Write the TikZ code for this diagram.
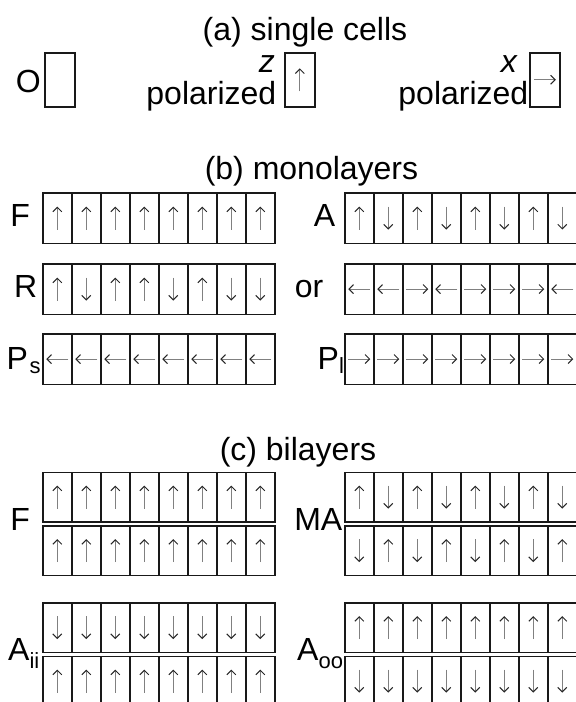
\documentclass[tikz,border=0pt]{standalone}
\usepackage{fontspec}
\setmainfont{Liberation Sans}
\usetikzlibrary{arrows.meta}

\tikzset{
  cellbox/.style={draw=black!90, line width=1.6pt, minimum width=29pt,
    minimum height=50.5pt, inner sep=0pt, anchor=north west},
  onecell/.style={draw=black!90, line width=1.6pt, minimum width=30pt,
    minimum height=54pt, inner sep=0pt, anchor=north west},
  spin/.style={draw=black!50, line width=1pt,
    -{Straight Barb[length=4.5pt,width=9pt,line width=1pt,black!85]}},
  lbl/.style={font=\fontsize{32}{32}\selectfont, inner sep=0pt},
  ttl/.style={font=\fontsize{32}{32}\selectfont, inner sep=0pt, anchor=base},
}

% arrows drawn inside a cell node, one macro per direction
\newcommand\spinu[1]{\draw[spin] ([yshift=-11.5pt]#1.center) -- ([yshift=11.5pt]#1.center);}
\newcommand\spind[1]{\draw[spin] ([yshift=11.5pt]#1.center) -- ([yshift=-11.5pt]#1.center);}
\newcommand\spinl[1]{\draw[spin] ([xshift=11pt]#1.center) -- ([xshift=-11pt]#1.center);}
\newcommand\spinr[1]{\draw[spin] ([xshift=-11pt]#1.center) -- ([xshift=11pt]#1.center);}
\newcommand\spinn[1]{}

% a row of eight cells: name prefix, left x, top y, cell height, list of directions
\newcommand\cellrow[5]{%
  \foreach \d [count=\i from 0] in {#5} {
    \node[cellbox, minimum height=#4] (#1-\i) at ({#2+29*\i},#3) {};
    \csname spin\d\endcsname{#1-\i}
  }}

\newcommand\subtxt[2]{\lower#1\hbox{\fontsize{22}{22}\selectfont #2}}

\begin{document}
\begin{tikzpicture}[x=1pt,y=-1pt]
\useasboundingbox (0,0) rectangle (576,702);

% (a) single cells
\node[ttl] (ta) at (305,40) {(a) single cells};
\node[onecell] (co) at (44,52) {};
\node[lbl, anchor=base east] (lo) at (41,92) {O};
\node[onecell] (cz) at (284,52) {};
\spinu{cz}
\node[lbl, anchor=base east] (lz) at (275,72) {\itshape z};
\node[lbl, anchor=base east] (pz) at (276.5,104) {polarized};
\node[onecell] (cx) at (529,52) {};
\spinr{cx}
\node[lbl, anchor=base east] (lx) at (517,72) {\itshape x};
\node[lbl, anchor=base east] (px) at (528.5,104) {polarized};

% (b) monolayers
\node[ttl] (tb) at (311.5,179) {(b) monolayers};
\cellrow{mF}{42}{192}{50.5pt}{u,u,u,u,u,u,u,u}
\cellrow{mA}{344}{192}{50.5pt}{u,d,u,d,u,d,u,d}
\cellrow{mR}{42}{263}{50.5pt}{u,d,u,u,d,u,d,d}
\cellrow{mO}{344}{263}{50.5pt}{l,l,r,l,r,r,r,l}
\cellrow{mPs}{42}{333}{50.5pt}{l,l,l,l,l,l,l,l}
\cellrow{mPl}{344}{333}{50.5pt}{r,r,r,r,r,r,r,r}
\node[lbl, anchor=base east] (lF) at (30,226) {F};
\node[lbl, anchor=base east] (lA) at (335.5,226) {A};
\node[lbl, anchor=base east] (lR) at (37.5,297) {R};
\node[lbl, anchor=base east] (lor) at (323.5,297) {or};
\node[lbl, anchor=base west] (lPs) at (6.5,369) {P\kern1.5pt\subtxt{4pt}{s}};
\node[lbl, anchor=base west] (lPl) at (317.5,369) {P\subtxt{4pt}{l}};

% (c) bilayers: two stacked rows with a narrow gap between them
\node[ttl] (tc) at (298,460) {(c) bilayers};
\cellrow{bFt}{42}{471.5}{49.5pt}{u,u,u,u,u,u,u,u}
\cellrow{bFb}{42}{525}{49.5pt}{u,u,u,u,u,u,u,u}
\cellrow{bMt}{344}{471.5}{49.5pt}{u,d,u,d,u,d,u,d}
\cellrow{bMb}{344}{525}{49.5pt}{d,u,d,u,d,u,d,u}
\cellrow{bIt}{42}{602}{49.5pt}{d,d,d,d,d,d,d,d}
\cellrow{bIb}{42}{655.5}{49.5pt}{u,u,u,u,u,u,u,u}
\cellrow{bOt}{344}{602}{49.5pt}{u,u,u,u,u,u,u,u}
\cellrow{bOb}{344}{655.5}{49.5pt}{d,d,d,d,d,d,d,d}
\node[lbl, anchor=base east] (lbF) at (30,530) {F};
\node[lbl, anchor=base east] (lbM) at (342.5,530) {MA};
\node[lbl, anchor=base west] (lbI) at (8,660) {A\subtxt{8pt}{ii}};
\node[lbl, anchor=base west] (lbO) at (297,660) {A\subtxt{8pt}{oo}};
\end{tikzpicture}
\end{document}
